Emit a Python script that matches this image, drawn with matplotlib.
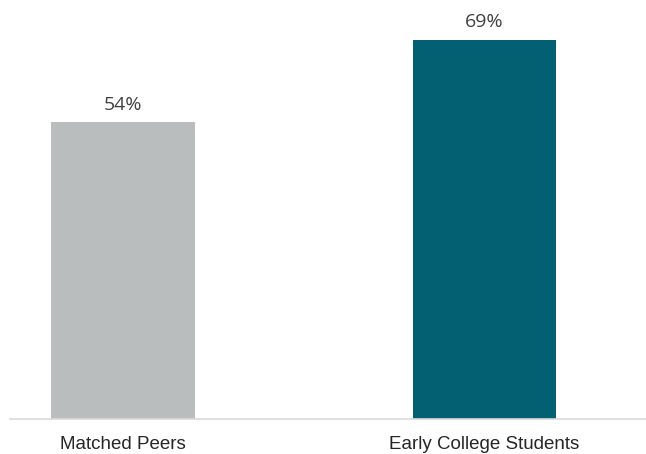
import matplotlib
matplotlib.use("Agg")
import matplotlib.pyplot as plt

categories = ["Matched Peers", "Early College Students"]
values = [54, 69]
labels = ["54%", "69%"]
colors = ["#b9bdbd", "#035f72"]

fig = plt.figure(figsize=(6.46, 4.54), dpi=100)
ax = fig.add_axes([10/646, 35/454, 636/646, 419/454])
x = list(range(len(categories)))
bars = ax.bar(x, values, width=0.398, color=colors)
ax.set_xlim(-0.3126, 1.4467)
ax.set_ylim(0, 419/5.5)
for b, lab in zip(bars, labels):
    ax.annotate(lab, (b.get_x() + b.get_width()/2, b.get_height()),
                xytext=(0, 6), textcoords="offset points", ha="center", va="bottom",
                fontsize=14, color="#404040", family="Open Sans")
ax.set_xticks(x)
ax.set_xticklabels(categories, fontsize=13.5, color="#262626", family="Liberation Sans")
ax.tick_params(axis="x", length=0, pad=12)
ax.set_yticks([])
for s in ["top", "right", "left"]:
    ax.spines[s].set_visible(False)
ax.spines["bottom"].set_color("#d9d9d9")
ax.spines["bottom"].set_linewidth(1.2)
fig.savefig("out.png", dpi=100)
